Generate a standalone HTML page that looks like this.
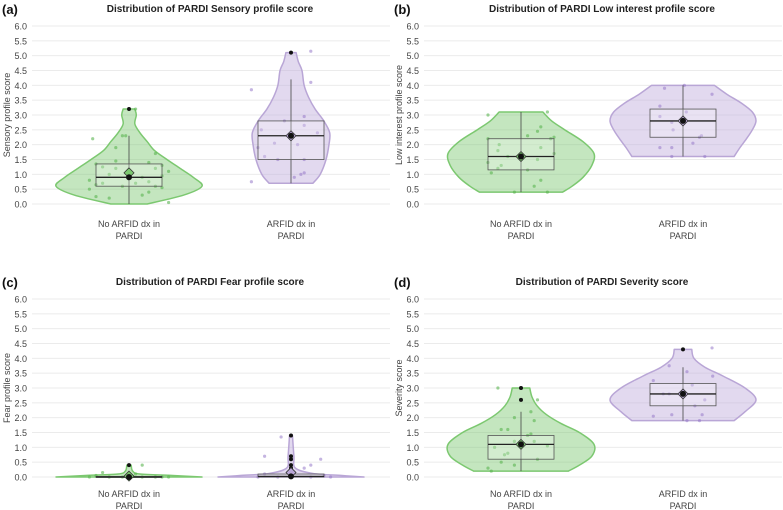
<!DOCTYPE html>
<html><head><meta charset="utf-8"><style>
body{margin:0;background:#fff;}
svg{display:block;font-family:"Liberation Sans",sans-serif;}
</style></head><body>
<svg id="c" width="783" height="510"></svg>
<script>
const categories=["No ARFID dx in|PARDI","ARFID dx in|PARDI"];
const ticks=[0,0.5,1,1.5,2,2.5,3,3.5,4,4.5,5,5.5,6];
const panelTitles=["Distribution of PARDI Sensory profile score","Distribution of PARDI Low interest profile score","Distribution of PARDI Fear profile score","Distribution of PARDI Severity score"];
const panelLetters=["(a)","(b)","(c)","(d)"];
const yTitles=["Sensory profile score","Low interest profile score","Fear profile score","Severity score"];
// violin density profiles [value, relative width 0..1]
const violinA0=[[0,0.25],[0.3,0.75],[0.6,1],[0.9,0.88],[1.2,0.7],[1.5,0.52],[1.8,0.35],[2.1,0.25],[2.4,0.15],[2.7,0.08],[3.0,0.1],[3.2,0.08]];
const violinA1=[[0.7,0.3],[1.0,0.4],[1.5,0.48],[2.0,0.52],[2.4,0.53],[2.8,0.45],[3.2,0.33],[3.6,0.24],[4.0,0.18],[4.5,0.15],[4.8,0.1],[5.1,0.07]];
const violinB0=[[0.4,0.57],[0.6,0.7],[0.9,0.85],[1.3,0.97],[1.7,1],[2.1,0.85],[2.5,0.6],[2.8,0.42],[3.1,0.3]];
const violinB1=[[1.6,0.7],[1.9,0.78],[2.2,0.87],[2.5,0.95],[2.8,1],[3.1,0.95],[3.4,0.8],[3.7,0.6],[4.0,0.43]];
const violinC0=[[0,1],[0.05,0.6],[0.1,0.15],[0.2,0.05],[0.4,0.03]];
const violinC1=[[0,1],[0.05,0.7],[0.12,0.3],[0.3,0.06],[0.7,0.04],[1.4,0.02]];
const violinD0=[[0.2,0.65],[0.4,0.8],[0.7,0.97],[1.1,1],[1.5,0.8],[1.8,0.55],[2.1,0.35],[2.4,0.22],[2.7,0.15],[3.0,0.12]];
const violinD1=[[1.9,0.7],[2.2,0.85],[2.6,1],[3.0,0.85],[3.4,0.55],[3.7,0.3],[4.0,0.15],[4.3,0.12]];
// box stats [min whisker, q1, median, q3, max whisker, mean]
const boxA=[[0,0.6,0.9,1.35,2.3,1.05],[0.7,1.5,2.3,2.8,4.2,2.3]];
const boxB=[[0.4,1.15,1.6,2.2,3.1,1.6],[1.6,2.25,2.8,3.2,4.0,2.8]];
const boxC=[[0,0,0,0.02,0.05,0.03],[0,0,0.02,0.1,0.25,0.15]];
const boxD=[[0.2,0.6,1.1,1.4,2.2,1.1],[1.9,2.4,2.8,3.15,3.7,2.8]];
const outliersA=[[3.2],[5.1]];
const outliersB=[[],[]];
const outliersC=[[0.4,0],[0.3,0.4,0.6,0.7,1.4,0]];
const outliersD=[[2.6,3.0],[4.3]];
// jitter points: values and x offsets (fraction of half band)
const ptsA0=[0.05,0.2,0.25,0.3,0.4,0.5,0.55,0.6,0.6,0.65,0.7,0.7,0.75,0.8,0.9,0.95,1.0,1.1,1.2,1.2,1.25,1.3,1.35,1.4,1.45,1.7,1.9,2.2,2.3,2.3,3.2];
const jxA0=[0.6,-0.3,-0.5,0.2,0.3,-0.6,0.5,-0.1,0.4,-0.5,-0.4,0.1,0.3,-0.6,0.2,0.5,-0.3,0.6,-0.2,0.4,-0.4,0.5,-0.5,0.3,-0.2,0.4,-0.2,-0.55,-0.1,-0.05,0.1];
const ptsA1=[0.75,0.9,1.0,1.05,1.5,1.5,1.6,1.9,2.0,2.05,2.4,2.5,2.65,2.8,2.95,3.85,4.1,5.15];
const jxA1=[-0.6,0.05,0.15,0.2,-0.2,0.2,-0.4,-0.5,0.1,-0.25,0.4,-0.45,0.2,-0.1,0.2,-0.6,0.3,0.3];
const ptsB0=[0.4,0.4,0.6,0.8,1.05,1.15,1.2,1.3,1.4,1.5,1.6,1.7,1.8,1.9,2.0,2.2,2.2,2.3,2.45,2.6,2.25,3.0,3.1];
const jxB0=[-0.1,0.4,0.2,0.3,-0.45,0.1,-0.35,-0.3,-0.5,0.25,-0.2,0.5,-0.35,0.3,-0.33,0.45,-0.5,0.1,0.25,0.3,0.5,-0.5,0.4];
const ptsB1=[1.6,1.6,1.9,1.9,2.05,2.25,2.3,2.5,2.75,2.95,3.1,3.3,3.7,3.9,4.0];
const jxB1=[-0.17,0.33,-0.35,-0.17,0.15,0.25,0.28,-0.15,-0.17,-0.35,0.05,-0.35,0.44,-0.28,0.02];
const ptsC0=[0,0,0,0,0,0,0,0.05,0.1,0.15,0.4];
const jxC0=[-0.6,-0.3,-0.1,0.2,0.4,0.6,0.5,-0.5,0.1,-0.4,0.2];
const ptsC1=[0,0,0,0,0.05,0.1,0.3,0.4,0.6,0.7,1.35];
const jxC1=[-0.5,-0.2,0.3,0.6,0.5,-0.4,0.2,0.3,0.45,-0.4,-0.15];
const ptsD0=[0.2,0.3,0.4,0.5,0.6,0.75,0.8,1.0,1.05,1.2,1.2,1.4,1.45,1.6,1.6,1.9,2.0,2.2,2.6,3.0];
const jxD0=[-0.45,-0.5,-0.1,-0.3,0.25,-0.25,-0.2,-0.4,0.4,-0.1,0.2,0.1,0.15,-0.3,-0.2,0.2,-0.1,0.15,0.25,-0.35];
const ptsD1=[1.9,1.9,2.05,2.1,2.1,2.4,2.6,2.8,2.8,3.1,3.25,3.4,3.55,3.75,4.35];
const jxD1=[0.06,0.25,-0.45,-0.17,0.29,0.18,0.33,-0.3,-0.21,0.14,-0.45,0.45,0.06,-0.21,0.44];

const NS="http://www.w3.org/2000/svg";
const svg=document.getElementById('c');
function mk(tag,attrs,parent){const e=document.createElementNS(NS,tag);for(const k in attrs)e.setAttribute(k,attrs[k]);(parent||svg).appendChild(e);return e;}
function smooth(pts){ // catmull-rom through pts [[x,y]...], returns segment string starting after first point
 let s='';
 for(let i=0;i<pts.length-1;i++){
  const p0=pts[Math.max(0,i-1)],p1=pts[i],p2=pts[i+1],p3=pts[Math.min(pts.length-1,i+2)];
  const c1=[p1[0]+(p2[0]-p0[0])/6,p1[1]+(p2[1]-p0[1])/6];
  const c2=[p2[0]-(p3[0]-p1[0])/6,p2[1]-(p3[1]-p1[1])/6];
  s+=`C${c1[0]},${c1[1]} ${c2[0]},${c2[1]} ${p2[0]},${p2[1]}`;
 }
 return s;
}
const green={fill:"rgba(124,200,112,0.45)",stroke:"#7cc870",pt:"rgba(90,180,80,0.6)"};
const purple={fill:"rgba(190,170,220,0.45)",stroke:"#b9a6d6",pt:"rgba(150,120,200,0.55)"};
const panels=[
 {x0:0,y0:0,v:[violinA0,violinA1],b:boxA,o:outliersA,p:[ptsA0,ptsA1],j:[jxA0,jxA1]},
 {x0:392,y0:0,v:[violinB0,violinB1],b:boxB,o:outliersB,p:[ptsB0,ptsB1],j:[jxB0,jxB1]},
 {x0:0,y0:273,v:[violinC0,violinC1],b:boxC,o:outliersC,p:[ptsC0,ptsC1],j:[jxC0,jxC1]},
 {x0:392,y0:273,v:[violinD0,violinD1],b:boxD,o:outliersD,p:[ptsD0,ptsD1],j:[jxD0,jxD1]}];
panels.forEach((P,i)=>{
 const g=mk('g',{});
 
 
 const yS=v=>P.y0+204-v*29.67;
 const xS=k=>P.x0+129+k*162;
 const t=mk('text',{x:P.x0+2,y:P.y0+14,'font-size':13,'font-weight':'bold',fill:'#111'},g);t.textContent=panelLetters[i];
 
 const tt=mk('text',{x:P.x0+210,y:P.y0+12,'font-size':10,'font-weight':'bold','text-anchor':'middle',fill:'#222'},g);tt.textContent=panelTitles[i];
 
 const yt=mk('text',{transform:`translate(${P.x0+10},${yS(3)}) rotate(-90)`,'font-size':9,'text-anchor':'middle',fill:'#444'},g);yt.textContent=yTitles[i];
 
 ticks.forEach(v=>{
  const l=mk('line',{x1:P.x0+32,x2:P.x0+390,y1:yS(v),y2:yS(v),stroke:'#ebebeb','stroke-width':1},g);
  
  const tl=mk('text',{x:P.x0+27,y:yS(v)+3.5,'font-size':9,'text-anchor':'end',fill:'#444'},g);tl.textContent=v.toFixed(1);
  
 });
 [0,1].forEach(k=>{
  const col=k?purple:green, cx=xS(k), prof=P.v[k];
  const right=prof.map(p=>[cx+p[1]*73,yS(p[0])]);
  const left=prof.slice().reverse().map(p=>[cx-p[1]*73,yS(p[0])]);
  const d=`M${right[0][0]},${right[0][1]}`+smooth(right)+`L${left[0][0]},${left[0][1]}`+smooth(left)+'Z';
  const vp=mk('path',{d:d,fill:col.fill,stroke:col.stroke,'stroke-width':1.5,'stroke-linejoin':'round'},g);
  
  P.p[k].forEach((v,m)=>{
   const c=mk('circle',{cx:cx+P.j[k][m]*66,cy:yS(v),r:1.6,fill:col.pt},g);
   
  });
  const b=P.b[k];
  const w=mk('line',{x1:cx,x2:cx,y1:yS(b[0]),y2:yS(b[4]),stroke:'#444','stroke-width':0.8},g);
  
  const r=mk('rect',{x:cx-33,y:yS(b[3]),width:66,height:Math.max(1,yS(b[1])-yS(b[3])),fill:'rgba(255,255,255,0.25)',stroke:'#555','stroke-width':0.8},g);
  
  const md=mk('line',{x1:cx-33,x2:cx+33,y1:yS(b[2]),y2:yS(b[2]),stroke:'#222','stroke-width':1.3},g);
  
  P.o[k].forEach(v=>{
   const c=mk('circle',{cx:cx,cy:yS(v),r:2,fill:'#111'},g);
   
  });
  const my=yS(b[5]);
  const dm=mk('path',{d:`M${cx},${my-5}L${cx+5},${my}L${cx},${my+5}L${cx-5},${my}Z`,fill:col.stroke,stroke:'#333','stroke-width':0.8},g);
  
  const mc=mk('circle',{cx:cx,cy:yS(b[2]),r:3,fill:'#111'},g);
  
  categories[k].split('|').forEach((s,n)=>{
   const xl=mk('text',{x:cx,y:P.y0+227+n*12,'font-size':9,'text-anchor':'middle',fill:'#444'},g);xl.textContent=s;
   if(i>=2) xl.setAttribute('y',P.y0+224+n*12);
   
  });
 });
});
</script>
</body></html>
